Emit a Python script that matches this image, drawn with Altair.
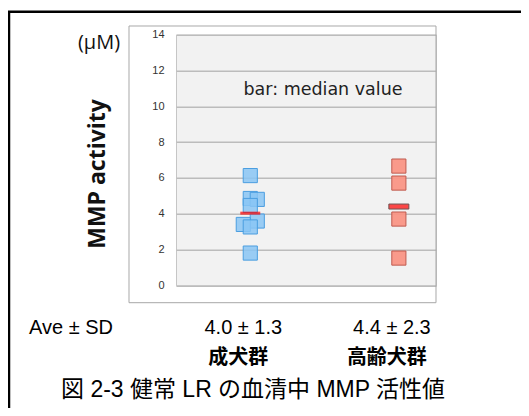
import altair as alt
import pandas as pd

# ---- data ----
groups = ["成犬群", "高齢犬群"]
group_pos = [1, 2]
adult_values = [6.13, 4.85, 4.8, 4.46, 3.59, 3.4, 3.26, 1.8]
adult_jitter = [0, 0, 0.047, 0, 0.047, -0.047, 0, 0]
senior_values = [6.66, 5.71, 3.7, 1.52]
senior_jitter = [0, 0, 0, 0]
bar_values = [4.03, 4.4]
ave_sd = ["4.0 ± 1.3", "4.4 ± 2.3"]
y_ticks = [0, 2, 4, 6, 8, 10, 12, 14]
unit_label = "(μM)"
y_title = "MMP activity"
note = "bar: median value"
ave_label = "Ave ± SD"
fig_title = "図 2-3  健常 LR の血清中 MMP 活性値"

adult = pd.DataFrame({"x": [group_pos[0] + j for j in adult_jitter], "v": adult_values})
senior = pd.DataFrame({"x": [group_pos[1] + j for j in senior_jitter], "v": senior_values})
bars = pd.DataFrame({"x": group_pos, "v": bar_values, "g": groups})
labels = pd.DataFrame({"x": group_pos, "g": groups, "s": ave_sd})

xs = alt.Scale(domain=[0.5, 2.25])
ys = alt.Scale(domain=[0, 14])
X = alt.X("x:Q", scale=xs, axis=None)
Y = alt.Y("v:Q", scale=ys, axis=alt.Axis(values=y_ticks, title=None, domain=False, ticks=False,
                                         labelPadding=12, labelFontSize=11, labelColor="#333333",
                                         labelFont="Liberation Sans", gridColor="#bcbcbc", gridWidth=1.5))

def txt(t, x, y, size, **kw):
    return alt.Chart(pd.DataFrame({"t": [t]})).mark_text(fontSize=size, baseline="middle", **kw).encode(
        x=alt.value(x), y=alt.value(y), text="t:N")

border = alt.Chart(pd.DataFrame({"t": [0]})).mark_rect(fill=None, stroke="#000000", strokeWidth=2.5).encode(
    x=alt.value(-167), x2=alt.value(420), y=alt.value(-23), y2=alt.value(420))
frame = alt.Chart(pd.DataFrame({"t": [0]})).mark_rect(fill=None, stroke="#a8a8a8", strokeWidth=1).encode(
    x=alt.value(-47), x2=alt.value(260), y=alt.value(-8.7), y2=alt.value(268))

pts_a = alt.Chart(adult).mark_square(size=200, fill="#8ac6f5", stroke="#4a9ee0", strokeWidth=1,
                                     fillOpacity=0.85, opacity=1).encode(x=X, y=Y)
pts_s = alt.Chart(senior).mark_square(size=200, fill="#f99585", stroke="#c05a4e", strokeWidth=1,
                                      fillOpacity=0.95).encode(x=X, y=Y)
bar_a = alt.Chart(bars.iloc[[0]]).mark_tick(orient="horizontal", size=20, thickness=3, color="#ff0000").encode(x=X, y=Y)
bar_s = alt.Chart(bars.iloc[[1]]).mark_tick(orient="horizontal", size=20, thickness=5, color="#ff0000",
                                            stroke="#3a1010", strokeWidth=1).encode(x=X, y=Y)

ave_t = alt.Chart(labels).mark_text(fontSize=20, font="Liberation Sans", color="#000000", baseline="middle",
                                    dx=-7).encode(x=X, y=alt.value(293.3), text="s:N")
grp_t = alt.Chart(labels).mark_text(fontSize=20, font="Noto Sans CJK JP", fontWeight="bold", color="#000000",
                                    baseline="middle", dx=-12).encode(x=X, y=alt.value(323.5), text="g:N")

chart = alt.layer(
    border, frame, pts_a, pts_s, bar_a, bar_s,
    txt(unit_label, -77, 8.3, 20, font="Open Sans", color="#111111"),
    txt(y_title, -78, 139.3, 23, font="Open Sans", fontWeight="bold", angle=270, color="#111111"),
    txt(note, 147, 55.3, 17.5, font="DejaVu Sans", color="#222222"),
    txt(ave_label, -105, 293.3, 20, font="Liberation Sans", color="#000000"),
    txt(fig_title, 77, 355.5, 23, font="Liberation Sans, Noto Sans CJK JP", color="#000000"),
    ave_t, grp_t,
).properties(
    width=260, height=250.6,
    autosize=alt.AutoSizeParams(type="none"),
    padding={"left": 168, "top": 26.7, "right": 85, "bottom": 123},
    background="#ffffff",
).configure_view(fill="#f2f2f2", stroke="#c6c6c6", strokeWidth=1)

chart.save("out.html", embed_options={"renderer": "svg", "actions": False})
